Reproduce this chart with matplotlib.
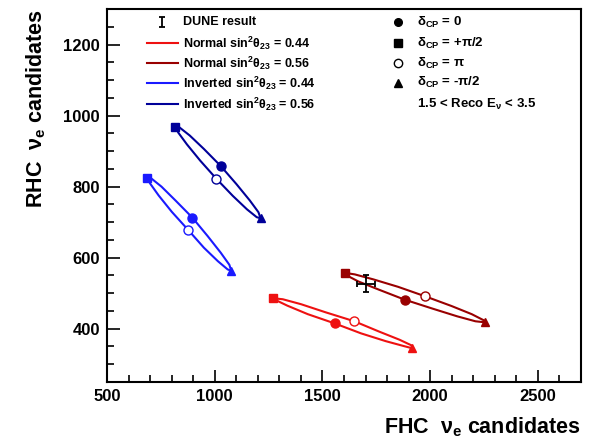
import matplotlib
matplotlib.use("Agg")
import matplotlib.pyplot as plt
from matplotlib.ticker import MultipleLocator

plt.rcParams['font.family'] = ['Liberation Sans', 'DejaVu Sans']
plt.rcParams['font.weight'] = 'bold'
plt.rcParams['mathtext.fontset'] = 'custom'
plt.rcParams['mathtext.rm'] = 'Liberation Sans:bold'
plt.rcParams['mathtext.it'] = 'Liberation Sans:bold'
plt.rcParams['mathtext.bf'] = 'Liberation Sans:bold'

# points, delta_CP from 0 in steps of pi/8
# (index 0 -> 0, 4 -> +pi/2, 8 -> pi, 12 -> -pi/2)
inv56_x = [1028, 950, 884, 838, 818, 831, 871, 933, 1008, 1084, 1150, 1195, 1213, 1203, 1163, 1101]
inv56_y = [858, 906, 944, 966, 969, 952, 919, 873, 822, 774, 736, 714, 711, 728, 761, 807]
inv44_x = [896, 818, 753, 708, 687, 700, 740, 801, 877, 950, 1015, 1060, 1077, 1068, 1028, 967]
inv44_y = [713, 761, 800, 822, 825, 809, 775, 729, 678, 628, 590, 567, 563, 580, 614, 661]
nor44_x = [1557, 1432, 1337, 1282, 1270, 1316, 1401, 1516, 1648, 1763, 1858, 1914, 1917, 1879, 1794, 1679]
nor44_y = [415, 441, 465, 481, 486, 483, 469, 446, 421, 392, 369, 353, 345, 351, 365, 387]
nor56_x = [1881, 1762, 1667, 1613, 1607, 1650, 1736, 1851, 1978, 2099, 2193, 2248, 2254, 2210, 2125, 2009]
nor56_y = [482, 510, 533, 550, 557, 553, 539, 518, 491, 464, 441, 424, 418, 421, 435, 457]

dune_x, dune_y = 1703, 527
dune_xerr, dune_yerr = 41, 23

curves = [
    (nor44_x, nor44_y, '#ee1111', r'Normal sin$^{2}\theta_{23}$ = 0.44'),
    (nor56_x, nor56_y, '#990000', r'Normal sin$^{2}\theta_{23}$ = 0.56'),
    (inv44_x, inv44_y, '#1a1aff', r'Inverted sin$^{2}\theta_{23}$ = 0.44'),
    (inv56_x, inv56_y, '#000099', r'Inverted sin$^{2}\theta_{23}$ = 0.56'),
]
delta_labels = [r'$\delta_{\mathrm{CP}}$ = 0', r'$\delta_{\mathrm{CP}}$ = +$\pi$/2',
                r'$\delta_{\mathrm{CP}}$ = $\pi$', r'$\delta_{\mathrm{CP}}$ = -$\pi$/2']

fig = plt.figure(figsize=(5.92, 4.42), dpi=100)
ax = fig.add_axes([0.1807, 0.1357, 0.8007, 0.8439])

for cx, cy, col, lab in curves:
    ax.plot(cx + cx[:1], cy + cy[:1], color=col, lw=1.5, zorder=2)
    ax.plot(cx[0], cy[0], 'o', color=col, ms=6.5, zorder=3)
    ax.plot(cx[4], cy[4], 's', color=col, ms=6, zorder=3)
    ax.plot(cx[8], cy[8], 'o', mfc='white', mec=col, mew=1.0, ms=6.5, zorder=3)
    ax.plot(cx[12], cy[12], '^', color=col, ms=6, zorder=3)

ax.errorbar(dune_x, dune_y, xerr=dune_xerr, yerr=dune_yerr, fmt='none',
            ecolor='black', elinewidth=1.3, capsize=2.5, capthick=1.3, zorder=4)

ax.set_xlim(500, 2700)
ax.set_ylim(250, 1300)
ax.xaxis.set_major_locator(MultipleLocator(500))
ax.xaxis.set_minor_locator(MultipleLocator(100))
ax.yaxis.set_major_locator(MultipleLocator(200))
ax.yaxis.set_minor_locator(MultipleLocator(50))
ax.tick_params(which='both', direction='in', top=False, right=False, width=1.2)
ax.tick_params(which='major', length=9, labelsize=12, pad=5)
ax.tick_params(which='minor', length=5)
for s in ax.spines.values():
    s.set_linewidth(1.5)
for t in ax.get_xticklabels() + ax.get_yticklabels():
    t.set_fontweight('bold')

ax.set_xlabel(r'FHC  $\nu_{e}$ candidates', fontsize=15.5, fontweight='bold')
ax.xaxis.set_label_coords(1.0, -0.09)
ax.xaxis.label.set_ha('right')
ax.set_ylabel(r'RHC  $\nu_{e}$ candidates', fontsize=15.5, fontweight='bold')
ax.yaxis.set_label_coords(-0.125, 1.0)
ax.yaxis.label.set_ha('right')

# legend, left column
rows = [0.965, 0.909, 0.855, 0.802, 0.745]
tr = ax.transAxes
fs = 9
ax.errorbar([0.116], [rows[0]], yerr=[0.013], fmt='none', ecolor='black',
            elinewidth=1.3, capsize=2.5, capthick=1.3, transform=tr)
ax.text(0.160, rows[0], 'DUNE result', transform=tr, fontsize=fs,
        fontweight='bold', va='center')
for (cx, cy, col, lab), yy in zip(curves, rows[1:]):
    ax.plot([0.084, 0.150], [yy, yy], color=col, lw=1.5, transform=tr)
    ax.text(0.160, yy, lab, transform=tr, fontsize=fs, fontweight='bold', va='center')

# legend, right column
mk = ['o', 's', 'o', '^']
for i, (m, lab) in enumerate(zip(mk, delta_labels)):
    if i == 2:
        ax.plot([0.614], [rows[i]], m, mfc='white', mec='black', mew=1.0, ms=6,
                transform=tr)
    else:
        ax.plot([0.614], [rows[i]], m, color='black', ms=5.5, transform=tr)
    ax.text(0.654, rows[i], lab, transform=tr, fontsize=9.5, fontweight='bold', va='center')
ax.text(0.654, rows[4], r'1.5 < Reco E$_{\nu}$ < 3.5', transform=tr, fontsize=9.5,
        fontweight='bold', va='center')

fig.savefig('out.png', dpi=100)
